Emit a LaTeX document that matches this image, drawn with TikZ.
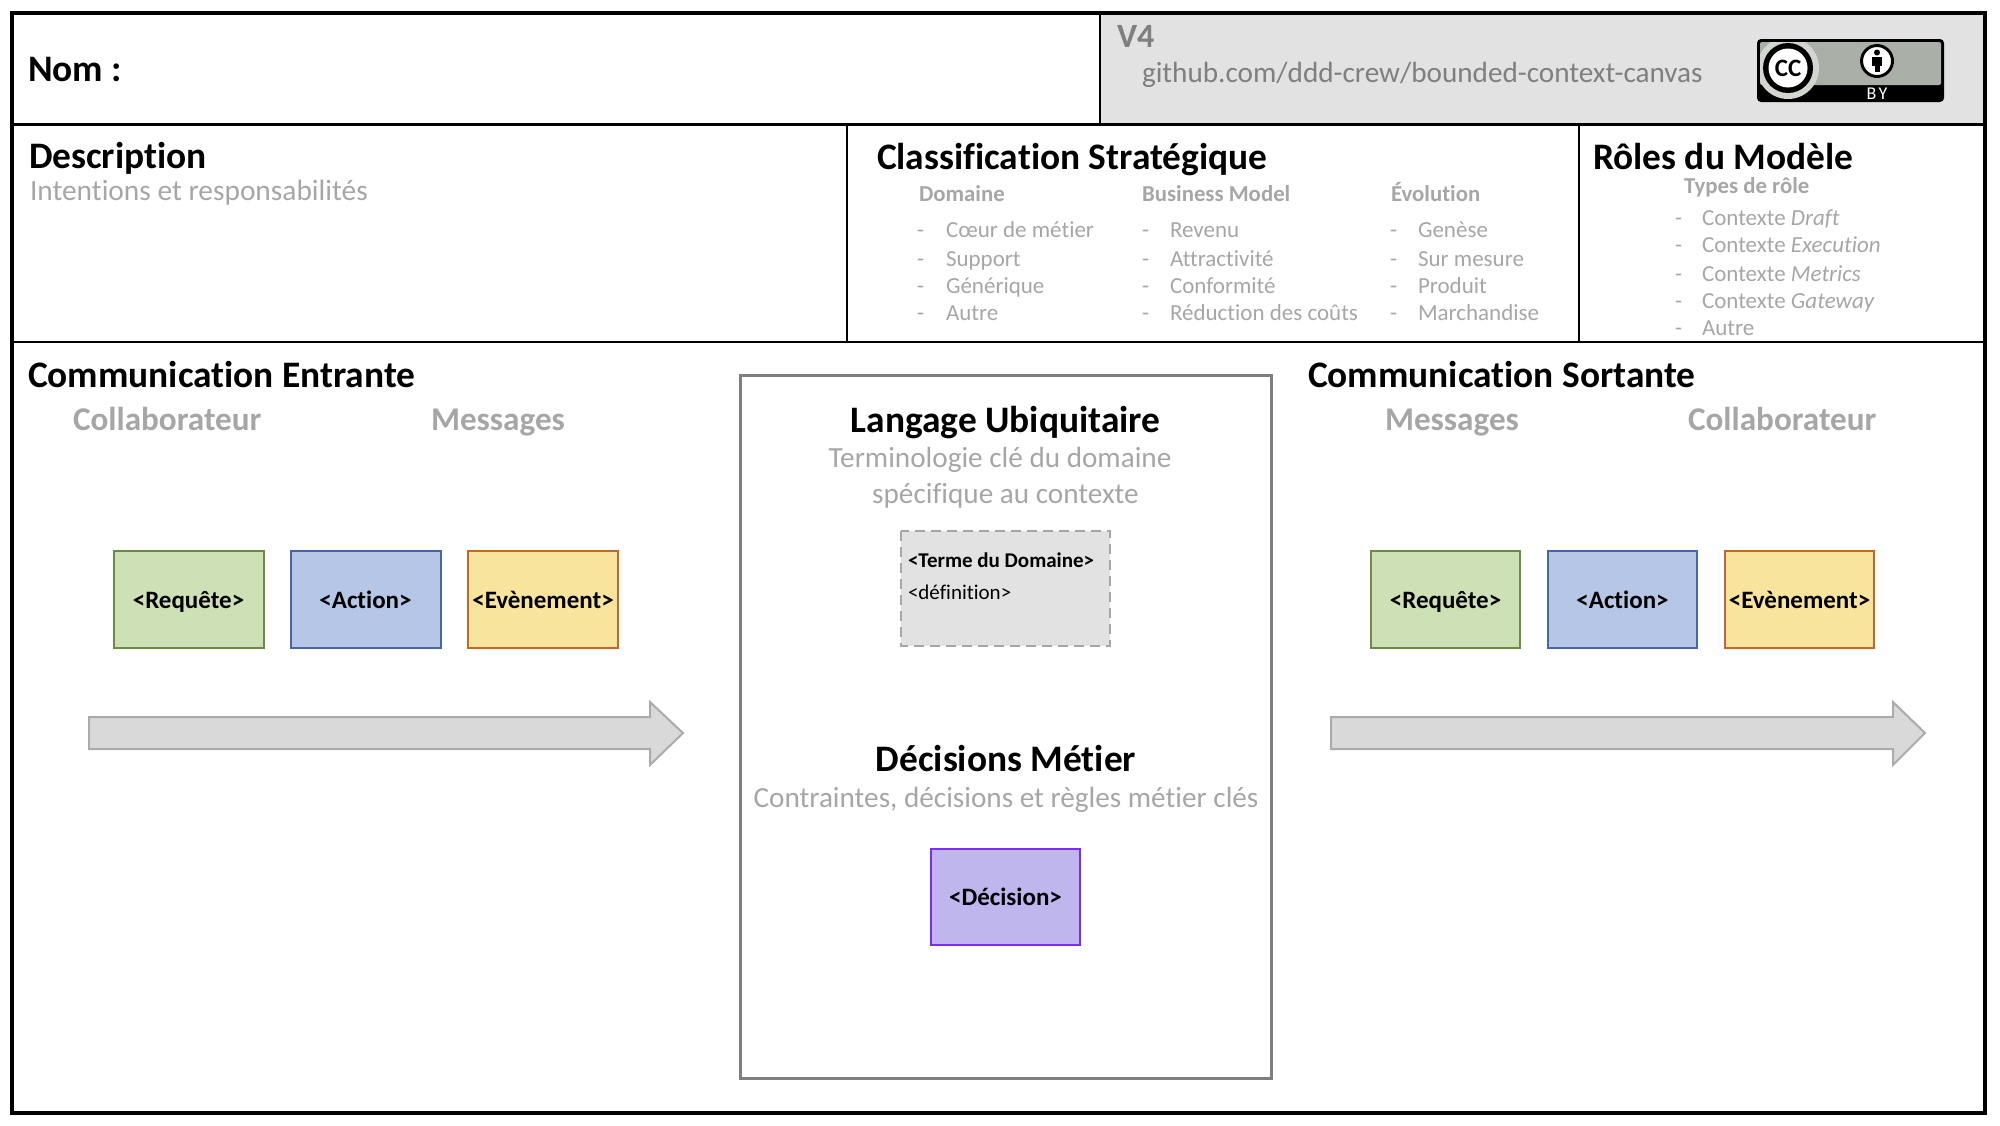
\documentclass[tikz,border=0pt]{standalone}
\usepackage{fontspec}
\setmainfont[Ligatures=CommonOff]{Carlito}
\begin{document}
\begin{tikzpicture}[x=0.5pt,y=-0.5pt,
  txt/.style={inner sep=0pt,outer sep=0pt,anchor=base west},
  ctr/.style={inner sep=0pt,outer sep=0pt,anchor=base},
  title/.style={txt,font=\fontsize{18.7}{20}\selectfont\bfseries,text=black},
  ctitle/.style={ctr,font=\fontsize{18.7}{20}\selectfont\bfseries,text=black},
  sub/.style={txt,font=\fontsize{16.6}{18}\selectfont\bfseries,text=gry},
  csub/.style={ctr,font=\fontsize{14.6}{16}\selectfont,text=gry},
  hdr/.style={txt,font=\fontsize{11.4}{12}\selectfont\bfseries,text=gry},
  itm/.style={txt,font=\fontsize{11.5}{12}\selectfont,text=gry},
  card/.style={rectangle,inner sep=0pt,outer sep=0pt,line width=1pt,text height=9.75pt,text depth=1.25pt,font=\fontsize{12.5}{13}\selectfont\bfseries,text=black},
  frameln/.style={draw=black,line width=1.25pt},
  thick frame/.style={draw=black,line width=2pt},
  bigarrow/.style={draw=arrowline,fill=arrowfill,line width=1pt,line join=miter}
]
\definecolor{gry}{HTML}{A6A6A6}
\definecolor{dgry}{HTML}{7F7F7F}
\definecolor{arrowline}{HTML}{ABABAB}
\definecolor{arrowfill}{HTML}{D9D9D9}
\definecolor{hdrfill}{HTML}{E2E2E2}
\definecolor{badgegray}{HTML}{AAB0A8}
\definecolor{badgehalo}{HTML}{D3D6D0}
\definecolor{grfill}{HTML}{CEE0B6}\definecolor{grline}{HTML}{6C8B45}
\definecolor{blfill}{HTML}{B6C6E6}\definecolor{blline}{HTML}{4A65A6}
\definecolor{yefill}{HTML}{F8E49C}\definecolor{yeline}{HTML}{C2682A}
\definecolor{pufill}{HTML}{BFB6EE}\definecolor{puline}{HTML}{7A2FF0}
\useasboundingbox (0,0) rectangle (2000,1125);
% panels
\fill[hdrfill] (1100,13) rectangle (1985,124);
\draw[frameln] (12,124.5) -- (1985,124.5);
\draw[frameln] (12,342) -- (1985,342);
\draw[frameln] (1100,13) -- (1100,124);
\draw[frameln] (847,124) -- (847,342);
\draw[frameln] (1579,124) -- (1579,342);
\draw[thick frame] (12,13) rectangle (1985,1113);
% header
\node[title] (nom) at (28,81) {Nom :};
\node[txt,font=\fontsize{17}{18}\selectfont\bfseries,text=dgry] (version) at (1117,47) {V4};
\node[txt,font=\fontsize{14.6}{16}\selectfont,text=dgry] (repo) at (1142,82) {github.com/ddd-crew/bounded-context-canvas};
% licence badge
\fill[black,rounded corners=2pt] (1757,39) rectangle (1944,102);
\fill[badgegray,rounded corners=1pt] (1760,42) rectangle (1941,85);
\begin{scope}
\clip (1760,42) rectangle (1941,100);
\fill[badgehalo] (1788,68) circle (31);
\end{scope}
\fill[black] (1788,68) circle (25);
\fill[white] (1788,68) circle (19.5);
\node[inner sep=0pt,font=\fontsize{12.5}{13}\selectfont\bfseries,text=black] (cc) at (1788,68) {CC};
\fill[white] (1877,61) circle (17);
\draw[black,line width=1.5pt] (1877,61) circle (15.5);
\fill[black] (1877,52.5) circle (3);
\fill[black] (1872,57) rectangle (1882,66);
\fill[black] (1874.5,66) rectangle (1879.5,72);
\node[inner sep=0pt,font=\fontsize{9}{10}\selectfont,text=white] (by) at (1877,93.5) {B\hspace{1.2pt}Y};
% description
\node[title] (desc) at (29,168) {Description};
\node[txt,font=\fontsize{14.7}{16}\selectfont,text=gry] (intent) at (30,200) {Intentions et responsabilités};
% classification
\node[title] (classif) at (877,169) {Classification Stratégique};
\node[hdr] (h1) at (919,201) {Domaine};
\node[hdr] (h2) at (1142,201) {Business Model};
\node[hdr] (h3) at (1391,201) {Évolution};
\node[itm] at (917,237) {-};\node[itm] at (917,266) {-};\node[itm] at (917,293) {-};\node[itm] at (917,320) {-};
\node[itm] at (1142,237) {-};\node[itm] at (1142,266) {-};\node[itm] at (1142,293) {-};\node[itm] at (1142,320) {-};
\node[itm] at (1390,237) {-};\node[itm] at (1390,266) {-};\node[itm] at (1390,293) {-};\node[itm] at (1390,320) {-};
\node[itm] (a1) at (946,237) {Cœur de métier};
\node[itm] (a2) at (946,266) {Support};
\node[itm] (a3) at (946,293) {Générique};
\node[itm] (a4) at (946,320) {Autre};
\node[itm] (b1) at (1170,237) {Revenu};
\node[itm] (b2) at (1170,266) {Attractivité};
\node[itm] (b3) at (1170,293) {Conformité};
\node[itm] (b4) at (1170,320) {Réduction des coûts};
\node[itm] (c1) at (1418,237) {Genèse};
\node[itm] (c2) at (1418,266) {Sur mesure};
\node[itm] (c3) at (1418,293) {Produit};
\node[itm] (c4) at (1418,320) {Marchandise};
% roles
\node[title] (roles) at (1593,169) {Rôles du Modèle};
\node[hdr] (types) at (1684,193) {Types de rôle};
\node[itm] at (1675,225) {-};\node[itm] at (1675,252) {-};\node[itm] at (1675,281) {-};\node[itm] at (1675,308) {-};\node[itm] at (1675,335) {-};
\node[itm] (r1) at (1702,225) {Contexte \textit{Draft}};
\node[itm] (r2) at (1702,252) {Contexte \textit{Execution}};
\node[itm] (r3) at (1702,281) {Contexte \textit{Metrics}};
\node[itm] (r4) at (1702,308) {Contexte \textit{Gateway}};
\node[itm] (r5) at (1702,335) {Autre};
% inbound
\node[title] (inT) at (28,387) {Communication Entrante};
\node[sub] (inC) at (73,430) {Collaborateur};
\node[sub] (inM) at (431,430) {Messages};
\node[card,draw=grline,fill=grfill,minimum width=75pt,minimum height=48.5pt] (inq) at (188.5,599.5) {<Requête>};
\node[card,draw=blline,fill=blfill,minimum width=75pt,minimum height=48.5pt] (ina) at (365.5,599.5) {<Action>};
\node[card,draw=yeline,fill=yefill,minimum width=75pt,minimum height=48.5pt] (ine) at (543,599.5) {<Evènement>};
\draw[bigarrow] (89,717) -- (650,717) -- (650,702) -- (683,733) -- (650,765) -- (650,749) -- (89,749) -- cycle;
% outbound
\node[title] (outT) at (1308,387) {Communication Sortante};
\node[sub] (outM) at (1385,430) {Messages};
\node[sub] (outC) at (1688,430) {Collaborateur};
\node[card,draw=grline,fill=grfill,minimum width=74.5pt,minimum height=48.5pt] (outq) at (1445.5,599.5) {<Requête>};
\node[card,draw=blline,fill=blfill,minimum width=74.5pt,minimum height=48.5pt] (outa) at (1622.5,599.5) {<Action>};
\node[card,draw=yeline,fill=yefill,minimum width=74.5pt,minimum height=48.5pt] (oute) at (1799.5,599.5) {<Evènement>};
\draw[bigarrow] (1331,717) -- (1893,717) -- (1893,702) -- (1925,733) -- (1893,765) -- (1893,749) -- (1331,749) -- cycle;
% centre
\draw[draw=dgry,line width=1.5pt] (740,375) rectangle (1271,1078);
\node[ctitle] (lu) at (1005.5,432) {Langage Ubiquitaire};
\node[csub] (lu1) at (1000,467) {Terminologie clé du domaine};
\node[csub] (lu2) at (1005.5,503) {spécifique au contexte};
\draw[draw=gry,fill=hdrfill,line width=1.25pt,dash pattern=on 5pt off 3pt] (901,531) rectangle (1110,646);
\node[txt,font=\fontsize{10.5}{12}\selectfont\bfseries,text=black] (term) at (908,567) {<Terme du Domaine>};
\node[txt,font=\fontsize{10.5}{12}\selectfont,text=black] (defn) at (908,599) {<définition>};
\node[ctitle] (dm) at (1006,771) {Décisions Métier};
\node[csub] (dm1) at (1006,807) {Contraintes, décisions et règles métier clés};
\node[card,draw=puline,fill=pufill,minimum width=74.5pt,minimum height=48pt] (dec) at (1005.5,897) {<Décision>};
\end{tikzpicture}
\end{document}
